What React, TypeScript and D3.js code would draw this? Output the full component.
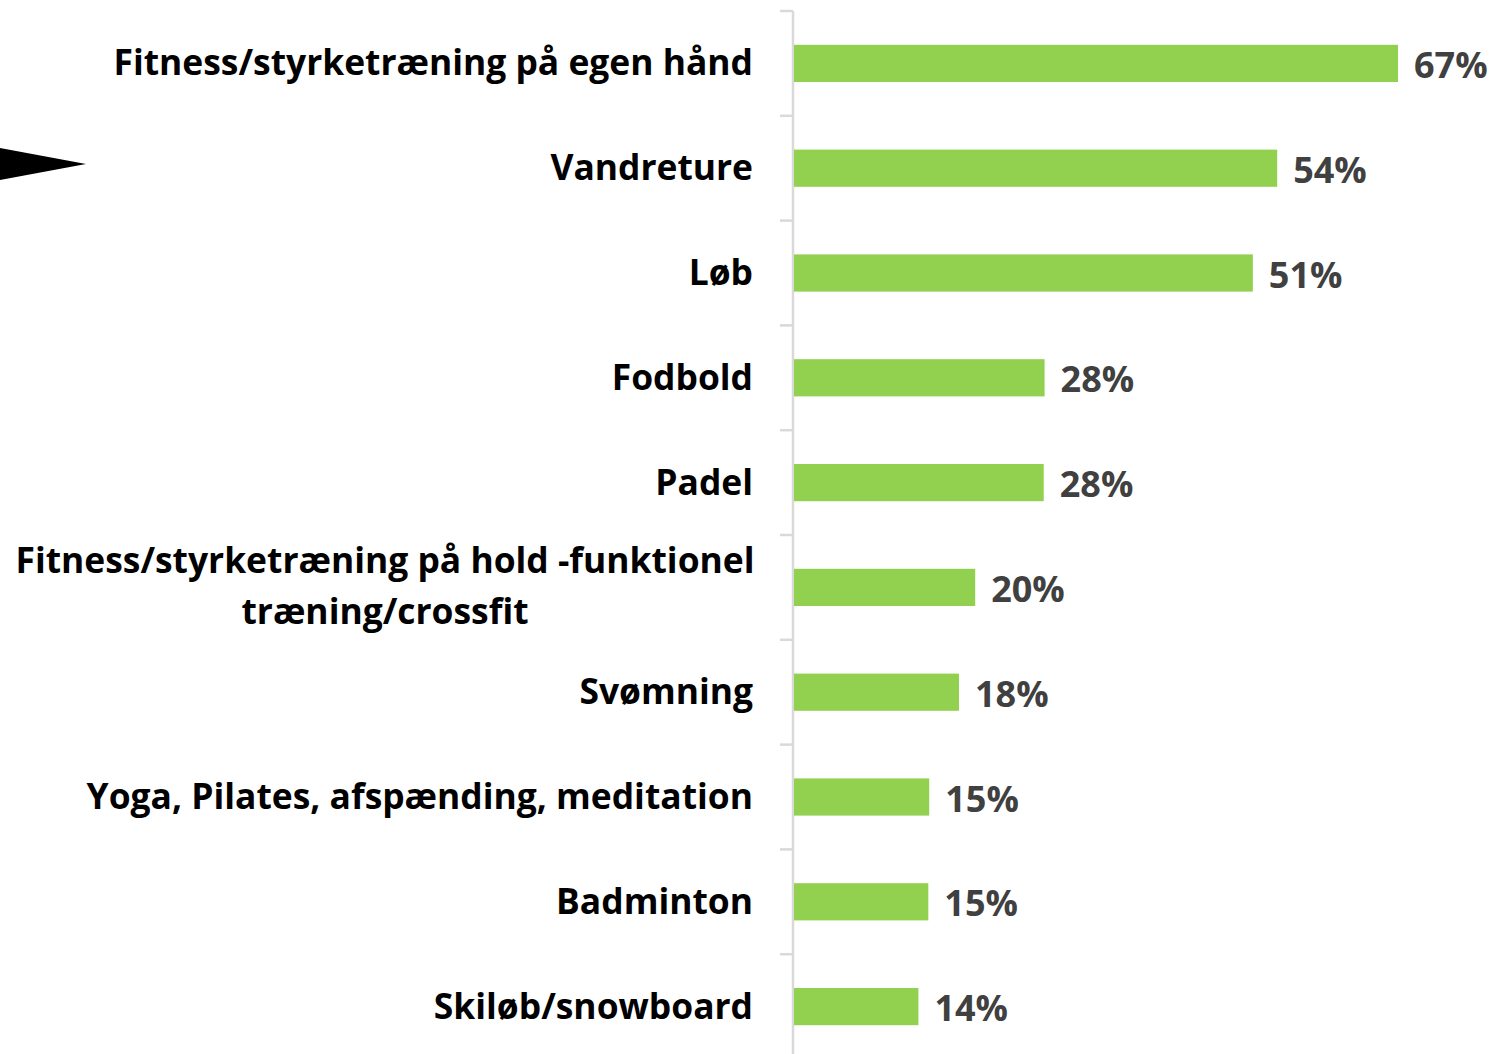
import * as d3 from "d3";

const categories = [
  "Fitness/styrketræning på egen hånd",
  "Vandreture",
  "Løb",
  "Fodbold",
  "Padel",
  "Fitness/styrketræning på hold -funktionel|træning/crossfit",
  "Svømning",
  "Yoga, Pilates, afspænding, meditation",
  "Badminton",
  "Skiløb/snowboard",
];
// shares in percent, labels show them rounded
const values = [67, 53.6, 50.9, 27.8, 27.7, 20.1, 18.3, 15.0, 14.9, 13.8];

const WIDTH = 1496;
const HEIGHT = 1054;
const AXIS_X = 793;
const TOP = 11;
const STEP = 104.8;

export default function App() {
  const yScale = d3
    .scaleBand<string>()
    .domain(categories)
    .range([TOP, TOP + STEP * categories.length])
    .paddingInner(0.645)
    .paddingOuter(0.3225);

  const xScale = d3.scaleLinear().domain([0, 67]).range([AXIS_X + 1, 1398]);
  const fmt = d3.format(".0f");

  const font = "'Open Sans', sans-serif";

  return (
    <svg
      width={WIDTH}
      height={HEIGHT}
      style={{ position: "absolute", left: 0, top: 0 }}
      fontFamily={font}
    >
      {/* pointer arrow at the left edge */}
      <polygon points="0,148 86,164 0,180" fill="#000" />

      {/* axis line + ticks */}
      <line x1={AXIS_X} x2={AXIS_X} y1={TOP} y2={HEIGHT} stroke="#d9d9d9" strokeWidth={2.5} />
      {categories.map((_, i) => (
        <line
          key={i}
          x1={780}
          x2={AXIS_X}
          y1={TOP + i * STEP}
          y2={TOP + i * STEP}
          stroke="#d9d9d9"
          strokeWidth={2.5}
        />
      ))}

      {categories.map((c, i) => {
        const y = yScale(c)!;
        const bw = yScale.bandwidth();
        const cy = y + bw / 2;
        const lines = c.split("|");
        return (
          <g key={c}>
            <rect
              x={xScale(0)}
              y={y}
              width={xScale(values[i]) - xScale(0)}
              height={bw}
              fill="#92d050"
            />
            <text
              x={xScale(values[i]) + 16}
              y={cy + 14.5}
              fontSize={36}
              fontWeight="bold"
              fill="#404040"
            >
              {fmt(values[i])}%
            </text>
            {lines.length === 1 ? (
              <text x={753} y={cy + 12} textAnchor="end" fontSize={35.4} fontWeight="bold" fill="#000">
                {c}
              </text>
            ) : (
              lines.map((l, j) => (
                <text
                  key={j}
                  x={385}
                  y={cy - 14 + j * 51}
                  textAnchor="middle"
                  fontSize={35.4}
                  fontWeight="bold"
                  fill="#000"
                >
                  {l}
                </text>
              ))
            )}
          </g>
        );
      })}
    </svg>
  );
}
